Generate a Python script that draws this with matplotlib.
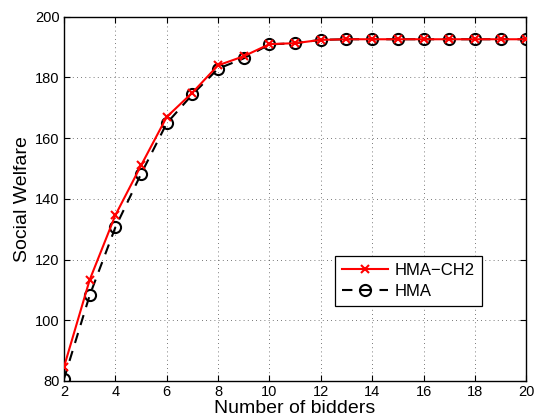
import matplotlib
matplotlib.use("Agg")
import matplotlib.pyplot as plt

bidders = list(range(2, 21))
hma_ch2 = [84.6, 113.3, 134.6, 151.0, 167.0, 175.0, 184.0, 187.0, 191.0, 191.3,
           192.4, 192.6, 192.6, 192.6, 192.6, 192.6, 192.6, 192.6, 192.6]
hma = [80.7, 108.2, 130.6, 148.2, 164.9, 174.4, 182.9, 186.3, 190.9, 191.3,
       192.4, 192.6, 192.6, 192.6, 192.6, 192.6, 192.6, 192.6, 192.6]

plt.rcParams['font.family'] = ['Liberation Sans', 'DejaVu Sans']

fig = plt.figure(figsize=(5.35, 4.2), dpi=100)
ax = fig.add_axes([0.1196, 0.093, 0.864, 0.867])

ax.plot(bidders, hma_ch2, color="red", linestyle="-", linewidth=1.5, marker="x",
        markersize=6, markeredgewidth=1.5, label="HMA\u2212CH2", zorder=3)
ax.plot(bidders, hma, color="black", linestyle=(0, (5, 4)), linewidth=1.5, marker="o",
        markersize=8, markerfacecolor="none", markeredgewidth=1.5, label="HMA", zorder=2)

ax.set_xlim(2, 20)
ax.set_ylim(80, 200)
ax.set_xticks(range(2, 21, 2))
ax.set_yticks(range(80, 201, 20))
ax.tick_params(direction="in", top=True, right=True, labelsize=10.5, length=4, pad=3)
ax.grid(True, linestyle=(0, (1, 4)), color="black", linewidth=0.6, alpha=0.7)
for s in ax.spines.values():
    s.set_linewidth(1.0)

ax.set_xlabel("Number of bidders", fontsize=14, labelpad=1)
ax.set_ylabel("Social Welfare", fontsize=14, labelpad=3)

leg = ax.legend(loc="upper left", bbox_to_anchor=(0.568, 0.365), fontsize=12,
                frameon=True, fancybox=False, edgecolor="black", framealpha=1,
                handlelength=2.8, borderpad=0.4, labelspacing=0.35,
                handletextpad=0.4)
leg.get_frame().set_linewidth(0.9)

fig.savefig("out.png", dpi=100)
